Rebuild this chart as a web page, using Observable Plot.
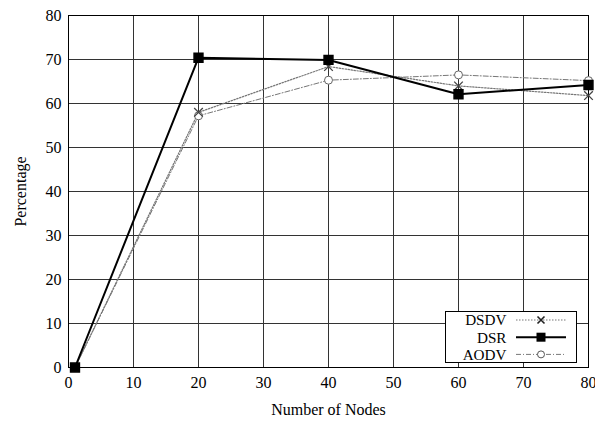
<!DOCTYPE html>
<html><head><meta charset="utf-8">
<script src="https://cdn.jsdelivr.net/npm/d3@7"></script>
<script src="https://cdn.jsdelivr.net/npm/@observablehq/plot@0.6"></script>
<style>body{margin:0;background:#fff;} #chart{position:relative;width:595px;height:423px;}
#chart svg, #chart svg text{font-family:"Liberation Serif","Times New Roman",serif !important;}</style>
</head><body><div id="chart"></div>
<script>
const nodes = [1, 20, 40, 60, 80];
const dsdv = [0, 58.0, 68.4, 64.0, 61.8];
const dsr  = [0, 70.4, 69.9, 62.1, 64.2];
const aodv = [0, 57.2, 65.3, 66.5, 65.2];
const xTicks = [0, 10, 20, 30, 40, 50, 60, 70, 80];
const yTicks = [0, 10, 20, 30, 40, 50, 60, 70, 80];
const seriesNames = ["DSDV", "DSR", "AODV"];

const toRows = (vals) => nodes.map((n, i) => ({x: n, y: vals[i]}));
const D = toRows(dsdv), R = toRows(dsr), A = toRows(aodv);

const font = "'Liberation Serif', 'Times New Roman', serif";
const plot = Plot.plot({
  width: 595, height: 423,
  marginLeft: 68, marginRight: 7, marginTop: 15, marginBottom: 56,
  style: {fontFamily: font, fontSize: "16px", color: "#000", background: "#fff"},
  x: {domain: [0, 80], ticks: xTicks, label: "Number of Nodes", labelAnchor: "center"},
  y: {domain: [0, 80], ticks: yTicks, label: "Percentage", labelAnchor: "center"},
  marks: [
    Plot.gridX(xTicks, {stroke: "#333", strokeOpacity: 1, strokeWidth: 1}),
    Plot.gridY(yTicks, {stroke: "#333", strokeOpacity: 1, strokeWidth: 1}),
    Plot.axisX({ticks: xTicks, tickSize: 0, tickPadding: 9, fontSize: 16, label: "Number of Nodes", labelAnchor: "center", labelArrow: "none", labelOffset: 47}),
    Plot.axisY({ticks: yTicks, tickSize: 0, tickPadding: 7, fontSize: 16, label: "Percentage", labelAnchor: "center", labelArrow: "none", labelOffset: 54}),
    Plot.frame({stroke: "#000", strokeWidth: 1}),
    Plot.line(A, {x: "x", y: "y", stroke: "#777", strokeWidth: 1, strokeDasharray: "5,2,1,2"}),
    Plot.line(D, {x: "x", y: "y", stroke: "#777", strokeWidth: 1.2, strokeDasharray: "1.5,1.5"}),
    Plot.line(R, {x: "x", y: "y", stroke: "#000", strokeWidth: 2}),
    Plot.dot(A, {x: "x", y: "y", r: 4, stroke: "#666", fill: "#fff", strokeWidth: 1}),
    Plot.dot(D, {x: "x", y: "y", symbol: "times", r: 4, stroke: "#444", strokeWidth: 1.3}),
    Plot.dot(R, {x: "x", y: "y", symbol: "square", r: 5, fill: "#000", stroke: "#000"})
  ]
});
document.getElementById("chart").appendChild(plot);

// legend drawn inside the SVG
const svg = d3.select(plot);
const lg = svg.append("g").attr("font-size", 15.2);
lg.append("rect").attr("x", 445.5).attr("y", 311.5).attr("width", 131).attr("height", 51)
  .attr("fill", "#fff").attr("stroke", "#000").attr("stroke-width", 1);
const styles = [
  {stroke: "#777", w: 1.2, dash: "1.5,1.5"},
  {stroke: "#000", w: 2, dash: null},
  {stroke: "#777", w: 1, dash: "5,2,1,2"}
];
seriesNames.forEach((name, i) => {
  const cy = 320 + i * 17.2;
  lg.append("text").attr("x", 506.5).attr("y", cy).attr("dy", "0.35em").attr("text-anchor", "end").text(name);
  const s = styles[i];
  const ln = lg.append("line").attr("x1", 516).attr("x2", 566).attr("y1", cy).attr("y2", cy)
    .attr("stroke", s.stroke).attr("stroke-width", s.w);
  if (s.dash) ln.attr("stroke-dasharray", s.dash);
  const mx = 541;
  if (i === 0) {
    lg.append("path").attr("d", `M${mx-3.5},${cy-3.5}L${mx+3.5},${cy+3.5}M${mx-3.5},${cy+3.5}L${mx+3.5},${cy-3.5}`)
      .attr("stroke", "#222").attr("stroke-width", 1.6);
  } else if (i === 1) {
    lg.append("rect").attr("x", mx-4.5).attr("y", cy-4.5).attr("width", 9).attr("height", 9).attr("fill", "#000");
  } else {
    lg.append("circle").attr("cx", mx).attr("cy", cy).attr("r", 3.5).attr("fill", "#fff").attr("stroke", "#555");
  }
});
</script></body></html>
